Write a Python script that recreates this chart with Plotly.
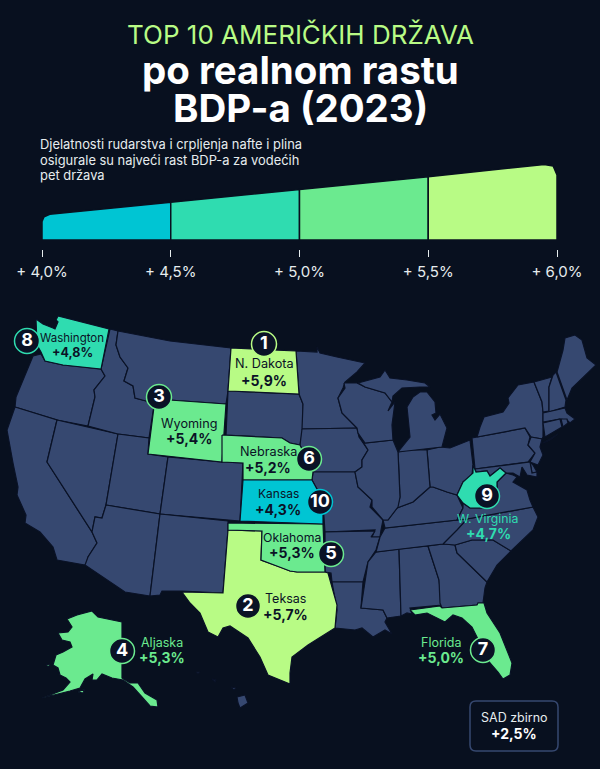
"""
Top 10 američkih država po realnom rastu BDP-a (2023)
"""

import plotly.graph_objects as go

# podaci
ranks = [1, 2, 3, 4, 5, 6, 7, 8, 9, 10]
state_codes = ["ND", "TX", "WY", "AK", "OK", "NE", "FL", "WA", "WV", "KS"]
state_labels = ["N. Dakota", "Teksas", "Wyoming", "Aljaska", "Oklahoma",
                "Nebraska", "Florida", "Washington", "W. Virginia", "Kansas"]
growth = [5.9, 5.7, 5.4, 5.3, 5.3, 5.2, 5.0, 4.8, 4.7, 4.3]

scale_breaks = [4.0, 4.5, 5.0, 5.5, 6.0]
scale_labels = ["+ 4,0%", "+ 4,5%", "+ 5,0%", "+ 5,5%", "+ 6,0%"]

# obrisi država, očitani sa slike (px)
WA = [(36,319),(43,324),(53,328),(55,329),(58,322),(56,320),(58,316),(109,329),(101,369),(83,367),(63,365),(45,361),(41,352),(37,345)]
OR = [(33,356),(41,354),(45,361),(63,365),(83,367),(101,369),(105,376),(94,390),(95,397),(88,426),(57,420),(15,407),(16,397),(25,375)]
CA = [(15,407),(57,420),(47,462),(92,532),(97,543),(88,557),(87,562),(85,565),(57,560),(53,547),(40,532),(25,523),(26,515),(17,495),(18,487),(13,463),(7,430)]
NV = [(57,420),(118,434),(106,505),(102,518),(95,517),(92,532),(47,462)]
ID = [(110,329),(118,331),(116,345),(120,357),(128,368),(124,381),(133,386),(135,398),(146,401),(155,399),(149,438),(118,434),(88,426),(95,397),(94,390),(105,376),(101,369)]
MT = [(118,331),(170,341),(231,348),(228,391),(226,404),(155,399),(146,401),(135,398),(133,386),(124,381),(128,368),(120,357),(116,345)]
WY = [(155,399),(226,404),(222,462),(148,454)]
UT = [(118,434),(149,438),(148,454),(168,457),(160,514),(106,505)]
CO = [(168,457),(222,462),(243,463),(242,480),(240,521),(160,514)]
AZ = [(106,505),(160,514),(150,596),(125,592),(85,565),(88,557),(97,543),(92,532),(95,517),(102,518)]
NM = [(160,514),(228,521),(228,530),(223,593),(182,591),(162,591),(160,595),(150,596)]
TX = [(228,530),(262,531),(261,560),(267,562),(280,567),(290,571),(297,572),(310,572),(325,572),(328,573),(331,583),(337,605),(335,628),(308,645),(292,657),(290,673),(290,684),(268,675),(260,657),(248,638),(230,626),(223,628),(218,637),(208,632),(200,613),(190,603),(182,592),(223,593)]
OK = [(228,523),(323,524),(325,572),(310,572),(297,572),(290,571),(280,567),(267,562),(261,560),(262,531),(228,530)]
KS = [(243,480),(312,480),(318,491),(323,503),(323,524),(240,521)]
NE = [(222,435),(282,438),(290,443),(300,445),(307,460),(313,472),(312,480),(243,480),(243,463),(222,462)]
SD = [(228,391),(299,394),(303,404),(303,430),(300,445),(290,443),(282,438),(226,435)]
ND = [(231,348),(296,351),(299,394),(228,391)]
MN = [(296,351),(317,352),(317,347),(320,353),(337,357),(365,363),(357,372),(345,382),(343,388),(338,398),(342,413),(357,428),(302,429),(303,404),(299,394)]
IA = [(302,429),(357,428),(359,437),(368,450),(362,460),(362,467),(355,472),(313,472),(307,460),(300,445)]
MO = [(313,472),(355,472),(358,487),(372,500),(370,507),(383,520),(381,530),(380,537),(372,537),(375,530),(325,532),(323,503),(318,491),(312,480)]
AR = [(325,532),(375,531),(371,537),(380,537),(376,550),(368,562),(363,582),(332,582),(331,573),(325,572)]
LA = [(332,582),(363,582),(361,608),(383,610),(387,618),(385,622),(392,634),(385,630),(373,637),(362,628),(355,630),(335,628),(337,610)]
MS = [(376,552),(399,549),(401,616),(387,618),(383,610),(361,608),(368,562)]
AL = [(399,549),(428,546),(439,580),(442,605),(410,608),(412,614),(407,613),(401,616)]
GA = [(428,546),(443,544),(455,545),(457,553),(487,582),(485,588),(483,603),(478,603),(477,605),(442,608),(440,603),(439,580)]
FL = [(410,610),(440,606),(442,608),(477,605),(478,603),(484,603),(487,613),(500,633),(512,663),(510,675),(503,679),(498,672),(490,663),(472,627),(462,618),(453,615),(445,622),(427,613),(415,615)]
SC = [(455,545),(472,540),(493,540),(511,551),(497,565),(487,582),(457,553)]
NC = [(467,519),(533,507),(538,517),(533,530),(511,551),(493,540),(472,540),(455,545),(443,544),(457,530)]
TN = [(385,528),(457,520),(467,519),(457,530),(443,544),(376,552),(380,537)]
KY = [(383,520),(385,528),(457,520),(463,508),(457,495),(447,492),(433,487),(430,487),(413,502),(397,508),(388,520)]
VA = [(457,520),(463,508),(463,503),(470,508),(487,508),(497,500),(497,482),(506,473),(513,475),(517,477),(513,482),(527,490),(530,500),(533,507),(467,519)]
WV = [(473,465),(476,472),(487,471),(490,476),(500,468),(506,473),(497,482),(497,500),(487,508),(470,508),(463,503),(457,495),(463,482),(473,473)]
OH = [(427,450),(440,447),(450,448),(470,440),(473,465),(472,475),(463,482),(457,495),(447,492),(433,487),(430,487)]
IN = [(398,452),(408,450),(427,450),(430,487),(413,502),(397,508),(400,497)]
IL = [(365,443),(393,440),(398,452),(400,497),(398,507),(388,520),(383,520),(372,507),(372,500),(358,487),(355,472),(362,467),(362,460),(368,450),(360,437)]
WI = [(344,383),(357,383),(365,387),(385,393),(392,402),(388,411),(395,402),(392,425),(393,440),(365,443),(358,433),(357,428),(342,413),(338,398),(345,388)]
MI_UP = [(358,383),(380,377),(385,370),(390,378),(407,380),(425,383),(430,387),(420,387),(402,388),(393,396),(392,402),(385,393),(365,387)]
MI_LP = [(420,392),(427,392),(435,402),(436,413),(432,415),(435,420),(440,414),(447,428),(442,447),(398,452),(410,437),(408,420),(407,407),(413,397)]
PA = [(472,438),(477,437),(525,428),(530,437),(528,445),(535,453),(528,462),(475,469)]
NY = [(477,437),(480,427),(484,417),(503,412),(509,403),(508,398),(518,385),(534,382),(542,402),(543,412),(543,437),(542,439),(531,437),(525,428)]
LI = [(543,443),(558,434),(550,440)]
VT = [(534,382),(552,377),(549,387),(549,411),(543,412),(542,402)]
NH = [(553,375),(556,372),(566,400),(565,407),(549,412),(549,387)]
ME = [(557,372),(563,350),(565,338),(575,335),(582,340),(587,358),(596,365),(580,380),(572,388),(567,400)]
MA = [(543,413),(565,408),(567,413),(575,419),(570,423),(567,420),(560,419),(543,422)]
CT = [(543,423),(560,419),(562,427),(545,437)]
RI = [(561,419),(567,419),(568,423),(563,427)]
NJ = [(531,437),(542,439),(540,447),(543,455),(538,465),(530,462),(535,453),(528,445)]
DE = [(530,462),(533,465),(537,472),(532,473)]
MD = [(475,469),(530,462),(532,473),(537,472),(537,477),(527,475),(522,467),(520,477),(513,473),(506,473),(500,468),(490,476),(487,471),(476,472)]
AK = [(67,619),(77,615),(92,611),(98,617),(122,622),(122,678),(130,683),(138,683),(145,693),(157,700),(158,707),(150,706),(142,697),(133,687),(123,680),(112,678),(102,674),(97,680),(92,680),(93,674),(85,679),(80,688),(70,691),(55,695),(42,698),(50,695),(63,690),(70,682),(66,678),(60,675),(58,668),(53,665),(56,655),(63,652),(72,647),(70,642),(62,640),(58,633),(68,632),(72,627)]
AK_KODIAK = [(78,692),(85,689),(83,693)]
AK_NUNIVAK = [(46,664),(50,665),(48,667)]
HI = [(237,697),(245,695),(248,703),(240,708),(238,703)]
HI_MAUI = [(231,687),(236,688),(234,690)]
HI_OAHU = [(212,679),(216,680),(215,682)]
HI_KAUAI = [(196,672),(200,672),(198,674)]

base_states = [OR, CA, NV, ID, MT, UT, CO, AZ, NM, SD, MN, IA, MO, AR, LA, MS, AL, GA, SC, NC, TN, KY,
               VA, OH, IN, IL, WI, MI_UP, MI_LP, PA, NY, LI, VT, NH, ME, MA, CT, RI, NJ, DE, MD,
               HI, HI_MAUI, HI_OAHU, HI_KAUAI]
top_states = {"ND": [ND], "TX": [TX], "WY": [WY], "AK": [AK, AK_KODIAK, AK_NUNIVAK], "OK": [OK],
              "NE": [NE], "FL": [FL], "WA": [WA], "WV": [WV], "KS": [KS]}

# smještaj oznaka (px)
label_x = [264, 285, 189, 162, 292, 268, 441, 72, 488, 278]
name_y = [363, 598, 423, 642, 537, 451, 642, 338, 518, 493]
value_y = [380, 614, 438, 657, 552, 467, 657, 352, 533, 509]
name_size = [12.7, 12.5, 12.7, 12.5, 12.3, 12.7, 12.5, 11.5, 12.3, 12]
value_size = [14, 14, 14, 14, 14, 14, 14, 12.5, 14, 14]
badge_x = [264, 248, 159, 122, 331, 309, 483, 27, 487, 320]
badge_y = [344, 606, 397, 651, 554, 459, 650, 341, 496, 502]
outside_label = ["AK", "FL", "WV"]

BG = "#08101f"
STATE = "#364870"
BORDER = "#0a1226"
SEG_COLORS = ["#00c5d3", "#2fdcb0", "#6bea8f", "#b8fb85"]
FONT = "Inter"


def growth_color(value):
    for i in range(4):
        if value < scale_breaks[i + 1]:
            return SEG_COLORS[i]
    return SEG_COLORS[-1]


def add_state(fig, points, color):
    fig.add_trace(go.Scatter(
        x=[p[0] for p in points] + [points[0][0]],
        y=[p[1] for p in points] + [points[0][1]],
        mode="lines", fill="toself", fillcolor=color,
        line=dict(color=BORDER, width=1.2),
        hoverinfo="skip", showlegend=False,
    ))


def add_text(fig, x, y, text, size, color, bold=False):
    fig.add_annotation(x=x, y=y, text=f"<b>{text}</b>" if bold else text, showarrow=False,
                       xref="x", yref="y", xanchor="center", yanchor="middle",
                       font=dict(family=FONT, size=size, color=color))


fig = go.Figure()

# karta
for points in base_states:
    add_state(fig, points, STATE)
for code, value in zip(state_codes, growth):
    for points in top_states[code]:
        add_state(fig, points, growth_color(value))

# ljestvica
base = 3.02
for i in range(4):
    x0, x1 = scale_breaks[i], scale_breaks[i + 1]
    if i == 0:
        xs = [x0, x1, x1, x0 + 0.03, x0 + 0.008, x0]
        ys = [base, base, x1, x0 + 0.03, x0 - 0.07, x0 - 0.25]
    elif i == 3:
        xs = [x0, x1, x1, x1 - 0.015, x1 - 0.05, x0]
        ys = [base, base, x1 - 0.43, x1 - 0.08, x1 - 0.02, x0]
    else:
        xs = [x0, x1, x1, x0]
        ys = [base, base, x1, x0]
    fig.add_trace(go.Scatter(x=xs + xs[:1], y=ys + ys[:1], mode="lines", fill="toself",
                             fillcolor=SEG_COLORS[i], line=dict(color=BG, width=1.5),
                             xaxis="x2", yaxis="y2", hoverinfo="skip", showlegend=False))

# oznake država
for i, code in enumerate(state_codes):
    color = growth_color(growth[i]) if code in outside_label else BORDER
    add_text(fig, label_x[i], name_y[i], state_labels[i], name_size[i], color)
    add_text(fig, label_x[i], value_y[i], f"+{growth[i]:.1f}%".replace(".", ","), value_size[i], color, bold=True)

fig.add_trace(go.Scatter(
    x=badge_x, y=badge_y, mode="markers+text",
    marker=dict(size=25, color=BORDER, line=dict(width=1.5, color=[growth_color(v) for v in growth])),
    text=[f"<b>{r}</b>" for r in ranks], textposition="middle center",
    textfont=dict(family=FONT, size=18, color="white"),
    hoverinfo="skip", showlegend=False,
))

# naslov
add_text(fig, 300, 34, "TOP 10 AMERIČKIH DRŽAVA", 26, "#b8fb85")
add_text(fig, 300, 70, "po realnom rastu", 38.5, "white", bold=True)
add_text(fig, 300, 108, "BDP-a (2023)", 38.5, "white", bold=True)

desc = ["Djelatnosti rudarstva i crpljenja nafte i plina",
        "osigurale su najveći rast BDP-a za vodećih",
        "pet država"]
for y, line in zip([144, 160, 175], desc):
    fig.add_annotation(x=38, y=y, text=line, showarrow=False, xref="x", yref="y",
                       xanchor="left", yanchor="middle",
                       font=dict(family=FONT, size=12.9, color="#e6ecee"))

# SAD zbirno
fig.add_shape(type="path", xref="x", yref="y", line=dict(color=STATE, width=1.5), fillcolor=BG,
              path="M 476 701 L 552 701 Q 558 701 558 707 L 558 745 Q 558 751 552 751 "
                   "L 476 751 Q 470 751 470 745 L 470 707 Q 470 701 476 701 Z")
add_text(fig, 514, 717, "SAD zbirno", 12.5, "#e6ecee")
add_text(fig, 514, 733, "+2,5%", 14, "white", bold=True)

fig.update_layout(
    width=600, height=769,
    margin=dict(l=0, r=0, t=0, b=0),
    paper_bgcolor=BG, plot_bgcolor=BG,
    showlegend=False,
    xaxis=dict(domain=[0, 1], range=[0, 600], visible=False, automargin=False),
    yaxis=dict(domain=[0, 1], range=[769, 0], visible=False, automargin=False),
    xaxis2=dict(domain=[42 / 600, 557 / 600], range=[4, 6], anchor="free", automargin=False,
                position=1 - 249 / 769, tickmode="array", tickvals=scale_breaks,
                ticktext=scale_labels, ticks="outside", ticklen=7, tickwidth=1, tickcolor="#e6ecee",
                tickfont=dict(family=FONT, size=15, color="#e6ecee"), ticklabelstandoff=2,
                showgrid=False, zeroline=False, showline=False),
    yaxis2=dict(domain=[1 - 240 / 769, 1 - 164 / 769], range=[base, 6], anchor="x2",
                visible=False, automargin=False),
)

fig.write_html("out.html", config={"displayModeBar": False},
               post_script="document.body.style.margin='0';document.body.style.background='#08101f';"
                           "document.documentElement.style.overflow='hidden';")
